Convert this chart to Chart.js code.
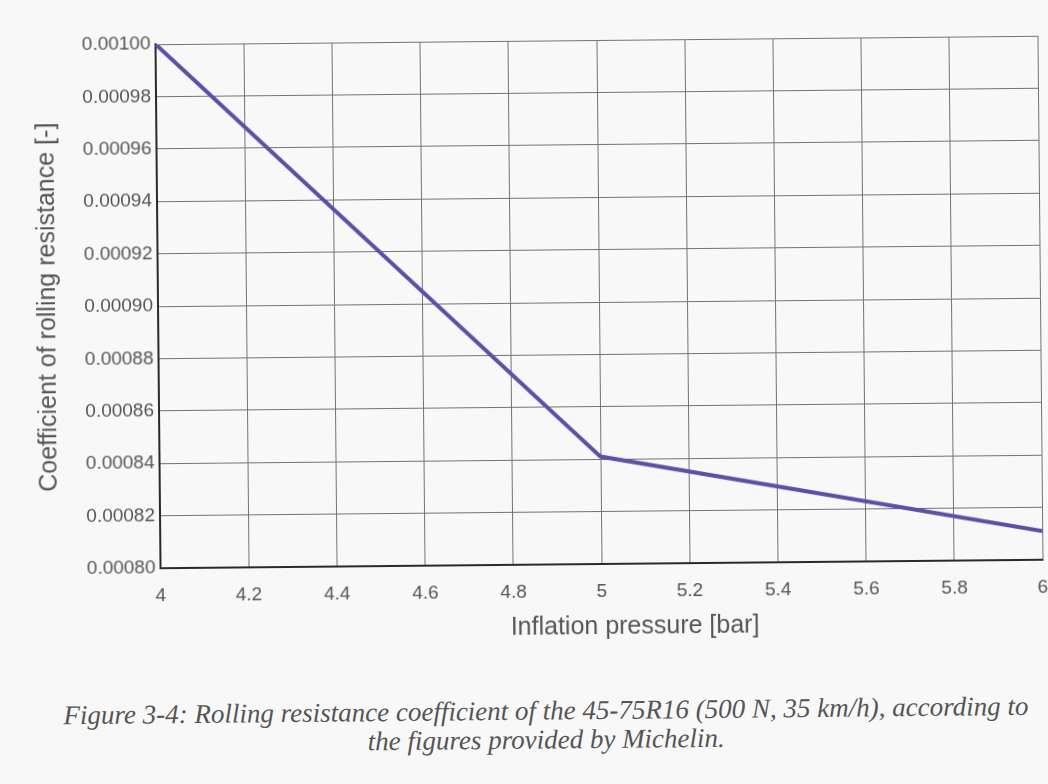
<!DOCTYPE html>
<html>
<head>
<meta charset="utf-8">
<script src="https://cdn.jsdelivr.net/npm/chart.js@4.4.1/dist/chart.umd.min.js"></script>
<style>
    html, body { margin: 0; padding: 0; background: #f8f8f8; }
    #pagina {
        position: relative;
        width: 1048px;
        height: 784px;
        overflow: hidden;
        transform: rotate(-0.55deg);
        transform-origin: 599px 302px;
    }
    #grafico { position: absolute; left: 0; top: 0; }
    #tituloX {
        position: absolute;
        left: 432px;
        top: 610px;
        width: 400px;
        text-align: center;
        font-family: "Liberation Sans", Arial, sans-serif;
        font-size: 25px;
        line-height: 30px;
        color: #555555;
    }
    #leyenda {
        position: absolute;
        left: 18px;
        top: 696px;
        width: 1048px;
        text-align: center;
        font-family: "Liberation Serif", "DejaVu Serif", serif;
        font-style: italic;
        font-size: 27px;
        line-height: 29px;
        color: #555555;
    }
</style>
</head>
<body>
<div id="pagina">
    <canvas id="grafico" width="1048" height="660"></canvas>
    <div id="tituloX">Inflation pressure [bar]</div>
    <div id="leyenda">Figure 3-4: Rolling resistance coefficient of the 45-75R16 (500 N, 35 km/h), according to<br>the figures provided by Michelin.</div>
</div>
<script>
// datos
const presion = [4, 5, 6];
const coeficiente = [0.00100, 0.000841, 0.000811];

const xTicks = [4, 4.2, 4.4, 4.6, 4.8, 5, 5.2, 5.4, 5.6, 5.8, 6];
const xEtiquetas = ['4', '4.2', '4.4', '4.6', '4.8', '5', '5.2', '5.4', '5.6', '5.8', '6'];
const yTicks = [0.00080, 0.00082, 0.00084, 0.00086, 0.00088, 0.00090, 0.00092, 0.00094, 0.00096, 0.00098, 0.00100];
const yEtiquetas = ['0.00080', '0.00082', '0.00084', '0.00086', '0.00088', '0.00090', '0.00092', '0.00094', '0.00096', '0.00098', '0.00100'];

const COLORES = {
    LINEA: '#5d4fa6',
    TEXTO: '#555555',
    REJILLA: '#737373',
    EJE: '#2a2a2a'
};

const FUENTE = '"Liberation Sans", Arial, sans-serif';

const puntos = presion.map((p, i) => ({ x: p, y: coeficiente[i] }));

function etiquetaDe(valores, etiquetas, v) {
    const i = valores.findIndex(t => Math.abs(t - v) < 1e-9);
    return i >= 0 ? etiquetas[i] : '';
}

new Chart(document.getElementById('grafico').getContext('2d'), {
    type: 'line',
    data: {
        datasets: [{
            data: puntos,
            borderColor: COLORES.LINEA,
            borderWidth: 4,
            pointRadius: 0,
            tension: 0,
            fill: false
        }]
    },
    options: {
        responsive: false,
        animation: false,
        devicePixelRatio: 1,
        layout: { padding: { top: 40, right: 8, left: 0, bottom: 0 } },
        plugins: {
            legend: { display: false },
            tooltip: { enabled: false }
        },
        scales: {
            x: {
                type: 'linear',
                min: 4,
                max: 6,
                afterBuildTicks: s => { s.ticks = xTicks.map(v => ({ value: v })); },
                afterFit: s => {
                    s.height = 96;
                    s.paddingLeft = 0;
                    s.paddingRight = 0;
                },
                grid: { color: COLORES.REJILLA, lineWidth: 1, drawTicks: false },
                border: { display: true, color: COLORES.EJE, width: 2 },
                ticks: {
                    padding: 16,
                    color: COLORES.TEXTO,
                    font: { family: FUENTE, size: 19 },
                    callback: v => etiquetaDe(xTicks, xEtiquetas, v)
                }
            },
            y: {
                min: 0.0008,
                max: 0.001,
                afterBuildTicks: s => { s.ticks = yTicks.map(v => ({ value: v })); },
                afterFit: s => { s.width = 158; },
                grid: { color: COLORES.REJILLA, lineWidth: 1, drawTicks: false },
                border: { display: true, color: COLORES.EJE, width: 2 },
                ticks: {
                    padding: 5,
                    color: COLORES.TEXTO,
                    font: { family: FUENTE, size: 19 },
                    callback: v => etiquetaDe(yTicks, yEtiquetas, v)
                },
                title: {
                    display: true,
                    text: 'Coefficient of rolling resistance [-]',
                    color: COLORES.TEXTO,
                    font: { family: FUENTE, size: 25 },
                    padding: { top: 33, bottom: 0 }
                }
            }
        }
    }
});
</script>
</body>
</html>
